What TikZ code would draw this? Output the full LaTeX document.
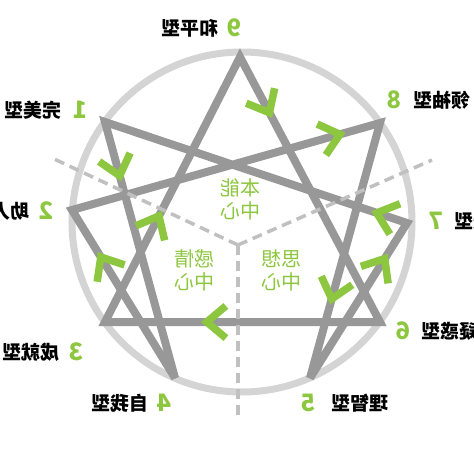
\documentclass[tikz,border=0pt]{standalone}
\usepackage{graphicx}
\usepackage{fontspec}
\setmainfont{Noto Sans CJK SC}
\usetikzlibrary{calc}

\definecolor{leaf}{RGB}{141,198,63}
\definecolor{ringgray}{RGB}{212,212,212}
\definecolor{stargray}{RGB}{152,152,152}
\definecolor{dashgray}{RGB}{192,192,192}

\tikzset{
  ring/.style={draw=ringgray, line width=7pt},
  star/.style={draw=stargray, line width=8pt, line join=miter, miter limit=2.5},
  sep/.style={draw=dashgray, line width=3.5pt, dash pattern=on 10pt off 6pt},
  chev/.style={draw=leaf, line width=7.5pt, line join=miter},
  num/.style={text=leaf, inner sep=0pt, font=\bfseries\fontsize{24}{24}\selectfont},
  typ/.style={inner sep=0pt, font=\bfseries\fontsize{19}{19}\selectfont},
  ctr/.style={text=leaf, inner sep=0pt, font=\fontsize{20}{22}\selectfont}
}

\newcommand{\chev}[3]{%
  \coordinate (tip) at ($(#1)!#3!(#2)$);
  \draw[chev] ($(tip)!25pt!140:(#2)$) -- (tip) -- ($(tip)!25pt!-140:(#2)$);
}
\newcommand{\mirror}[1]{\reflectbox{#1}}

\begin{document}
\begin{tikzpicture}[x=1pt, y=-1pt]
      \useasboundingbox (0,0) rectangle (474,474);

      \coordinate (p9) at (240,57);
      \coordinate (p1) at (105,122);
      \coordinate (p8) at (380,123);
      \coordinate (p2) at (72,210);
      \coordinate (p7) at (407,223);
      \coordinate (p3) at (105,322);
      \coordinate (p6) at (380,322);
      \coordinate (p4) at (175,378);
      \coordinate (p5) at (310,378);

      \coordinate (mid) at (238,245);
      \coordinate (dl) at (52,158);
      \coordinate (dr) at (432,160);
      \coordinate (db) at (238,420);

      \draw[ring] (242,222) circle[radius=170pt];

      \draw[star] (p9) -- (p6) -- (p3) -- cycle;
      \draw[star] (p1) -- (p4) -- (p2) -- (p8) -- (p5) -- (p7) -- cycle;

      \draw[sep] (mid) -- (dl);
      \draw[sep] (mid) -- (dr);
      \draw[sep] (mid) -- (db);

      \chev{p9}{p6}{0.21}
      \chev{p6}{p3}{0.63}
      \chev{p3}{p9}{0.40}
      \chev{p1}{p4}{0.21}
      \chev{p4}{p2}{0.72}
      \chev{p2}{p8}{0.87}
      \chev{p8}{p5}{0.69}
      \chev{p5}{p7}{0.77}
      \chev{p7}{p1}{0.10}

      \node[num] (n9) at (234,28) {\mirror{9}};
      \node[typ] (t9) at (190,28) {\mirror{和平型}};
      \node[num] (n1) at (80,110) {\mirror{1}};
      \node[typ] (t1) at (33,110) {\mirror{完美型}};
      \node[num] (n2) at (46,211) {\mirror{2}};
      \node[typ] (t2) at (1,211) {\mirror{助人型}};
      \node[num] (n3) at (76,352) {\mirror{3}};
      \node[typ] (t3) at (31,352) {\mirror{成就型}};
      \node[num] (n4) at (164,403) {\mirror{4}};
      \node[typ] (t4) at (120,403) {\mirror{自我型}};
      \node[num] (n5) at (308,403) {\mirror{5}};
      \node[typ] (t5) at (360,403) {\mirror{理智型}};
      \node[num] (n6) at (403,331) {\mirror{6}};
      \node[typ] (t6) at (450,331) {\mirror{疑惑型}};
      \node[num] (n7) at (436,221) {\mirror{7}};
      \node[typ] (t7) at (483,221) {\mirror{活跃型}};
      \node[num] (n8) at (394,100) {\mirror{8}};
      \node[typ] (t8) at (442,100) {\mirror{领袖型}};

      \node[ctr] (gut) at (240,202) {\mirror{\begin{tabular}{@{}c@{}}本能\\中心\end{tabular}}};
      \node[ctr] (heart) at (194,273) {\mirror{\begin{tabular}{@{}c@{}}感情\\中心\end{tabular}}};
      \node[ctr] (head) at (281,273) {\mirror{\begin{tabular}{@{}c@{}}思想\\中心\end{tabular}}};
    \end{tikzpicture}
\end{document}
